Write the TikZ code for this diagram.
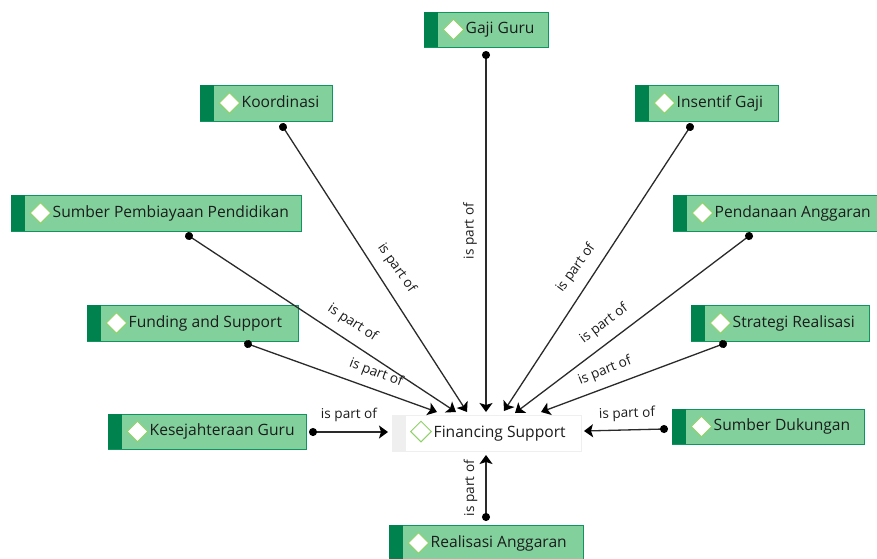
\documentclass[tikz,border=0pt]{standalone}
\usepackage{fontspec}
\setmainfont{Open Sans}
\usetikzlibrary{arrows.meta,shapes.geometric}
\definecolor{bodyg}{HTML}{82D19C}
\definecolor{edgeg}{HTML}{0F9660}
\definecolor{bandg}{HTML}{00824E}
\definecolor{diag}{HTML}{8FD169}
\definecolor{ink}{HTML}{1C1C1C}
\definecolor{linec}{HTML}{2A2A2A}
\definecolor{soft}{HTML}{EFEFEF}
\tikzset{
  boxbody/.style={draw=edgeg,fill=bodyg,line width=1.1pt,inner sep=0pt,anchor=north west},
  bandpart/.style={fill=bandg,inner sep=0pt,anchor=north west},
  gem/.style={diamond,draw=diag,fill=white,line width=1pt,inner sep=0pt,minimum width=21pt,minimum height=21pt},
  boxtext/.style={text=ink,font=\fontsize{15.6}{18}\selectfont,inner sep=0pt,anchor=base west},
  partof/.style={draw=linec,line width=1.3pt,shorten <=-4pt,{Circle[length=8pt,width=8pt,black]}-{Stealth[length=9pt,width=13pt,inset=2pt,black]}},
  lbl/.style={text=ink,font=\fontsize{13.6}{15}\selectfont,inner sep=0pt,anchor=center},
}
% #1 name, #2 left, #3 top, #4 right, #5 bottom, #6 text
\newcommand{\conceptbox}[6]{%
  \pgfmathsetmacro{\wid}{#4-#2}\pgfmathsetmacro{\hei}{#5-#3}%
  \node[boxbody,minimum width=\wid pt,minimum height=\hei pt] (#1) at (#2,#3) {};
  \node[bandpart,minimum width=14pt,minimum height=\hei pt] (#1-band) at (#2,#3) {};
  \pgfmathsetmacro{\cy}{(#3+#5)/2}\pgfmathsetmacro{\by}{\cy+4.3}\pgfmathsetmacro{\gx}{#2+29.5}\pgfmathsetmacro{\tx}{#2+41.5}%
  \node[gem] (#1-gem) at (\gx,\cy) {};
  \node[boxtext] (#1-text) at (\tx,\by) {#6};
}
\begin{document}
\begin{tikzpicture}[x=1pt,y=-1pt]
\useasboundingbox (0,0) rectangle (877,558);
\clip (0,0) rectangle (877,558);
\fill[white] (0,0) rectangle (877,558);
% central concept
\node[draw=soft,fill=white,line width=.8pt,minimum width=189pt,minimum height=36pt,inner sep=0pt,anchor=north west] (fin) at (392,415) {};
\node[fill=soft,minimum width=14pt,minimum height=36pt,inner sep=0pt,anchor=north west] (fin-band) at (392,415) {};
\node[gem,fill=white] (fin-gem) at (421,431.5) {};
\node[boxtext] (fin-text) at (433.5,437) {Financing Support};
% concepts
\conceptbox{gaji}{424}{12}{548}{47}{Gaji Guru}
\conceptbox{koord}{200}{85}{332}{121}{Koordinasi}
\conceptbox{insentif}{635}{85}{778}{121}{Insentif Gaji}
\conceptbox{sumber}{11}{195}{301}{231}{Sumber Pembiayaan Pendidikan}
\conceptbox{dana}{673}{195}{878}{231}{Pendanaan Anggaran}
\conceptbox{fund}{87}{305}{298}{341}{Funding and Support}
\conceptbox{strat}{691}{305}{869}{341}{Strategi Realisasi}
\conceptbox{sejah}{108}{414}{306}{449}{Kesejahteraan Guru}
\conceptbox{dukung}{672}{409}{864}{444}{Sumber Dukungan}
\conceptbox{real}{389}{525}{583}{561}{Realisasi Anggaran}
% connector ends
\foreach \n/\sx/\sy/\ex/\ey in {gaji/486/55/486/412,koord/283/127/467/412,insentif/690/127/504/411,sumber/189/236/456/412,dana/749/236/515/413,fund/248/344/437/412,strat/723/344/541/412,sejah/313/432/388/432,dukung/664/429/584/431,real/486/517/486/455}
  {\coordinate (\n-from) at (\sx,\sy); \coordinate (\n-to) at (\ex,\ey);}
% connectors
\draw[partof] (gaji-from) -- (gaji-to);
\draw[partof] (koord-from) -- (koord-to);
\draw[partof] (insentif-from) -- (insentif-to);
\draw[partof] (sumber-from) -- (sumber-to);
\draw[partof] (dana-from) -- (dana-to);
\draw[partof] (fund-from) -- (fund-to);
\draw[partof] (strat-from) -- (strat-to);
\draw[partof] (sejah-from) -- (sejah-to);
\draw[partof] (dukung-from) -- (dukung-to);
\draw[partof] (real-from) -- (real-to);
% connector labels
\node[lbl,rotate=90] (l1) at (470,231) {is part of};
\node[lbl,rotate=-55] (l2) at (396.5,268) {is part of};
\node[lbl,rotate=54] (l3) at (576,268) {is part of};
\node[lbl,rotate=-33] (l4) at (352.5,323) {is part of};
\node[lbl,rotate=37] (l5) at (604,324) {is part of};
\node[lbl,rotate=-21] (l6) at (376,373) {is part of};
\node[lbl,rotate=22] (l7) at (605,371) {is part of};
\node[lbl] (l8) at (349,415) {is part of};
\node[lbl,rotate=2] (l9) at (627,414) {is part of};
\node[lbl,rotate=90] (l10) at (470.5,488) {is part of};
\end{tikzpicture}
\end{document}
